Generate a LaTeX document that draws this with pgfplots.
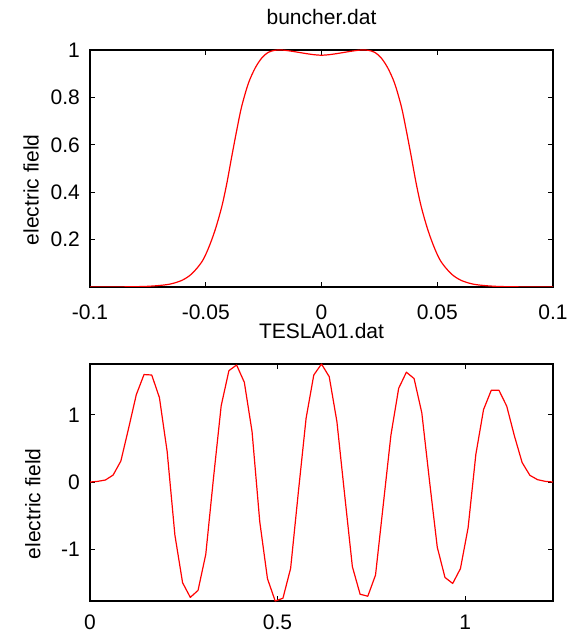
\documentclass[border=0pt]{standalone}
\usepackage{fontspec}
\setmainfont{Liberation Sans}
\usepackage{pgfplots}
\pgfplotsset{compat=1.18}
\pgfplotsset{
  myax/.style={
    scale only axis, width=463pt, height=237pt,
    anchor=south west,
    font=\fontsize{21}{25}\selectfont,
    axis line style={line width=1.5pt, black},
    tick align=inside,
    major tick length=5pt,
    tick style={line width=1pt, black},
    xticklabel style={anchor=base, inner sep=0pt, yshift=-33pt},
    yticklabel style={anchor=east, inner sep=0pt, xshift=-10pt},
    title style={at={(0.5,1)}, anchor=base, inner sep=0pt, yshift=19pt},
    ylabel={electric field},
  }
}
\begin{document}
\begin{tikzpicture}
\begin{axis}[myax, at={(90pt,347pt)},
  title={buncher.dat},
  xmin=-0.1, xmax=0.1, ymin=0, ymax=1,
  xtick={-0.1,-0.05,0,0.05,0.1},
  xticklabels={-0.1,-0.05,0,0.05,0.1},
  ytick={0.2,0.4,0.6,0.8,1},
  yticklabels={0.2,0.4,0.6,0.8,1},
  ylabel style={at={(axis description cs:-0.111,0.41)}, anchor=base, inner sep=0pt},
]
\addplot[red, line width=1.2pt, smooth] table {
x y
-0.1000 0.000
-0.0860 0.0005
-0.0747 0.003
-0.0661 0.011
-0.0603 0.028
-0.0560 0.056
-0.0517 0.106
-0.0489 0.162
-0.0460 0.239
-0.0431 0.338
-0.0409 0.437
-0.0388 0.549
-0.0366 0.662
-0.0345 0.761
-0.0316 0.859
-0.0287 0.923
-0.0259 0.965
-0.0230 0.990
-0.0200 0.999
-0.0172 1.000
-0.0130 0.995
-0.0080 0.987
-0.0040 0.981
0.0000 0.978
0.0040 0.981
0.0080 0.987
0.0130 0.995
0.0172 1.000
0.0200 0.999
0.0230 0.990
0.0259 0.965
0.0287 0.923
0.0316 0.859
0.0345 0.761
0.0366 0.662
0.0388 0.549
0.0409 0.437
0.0431 0.338
0.0460 0.239
0.0489 0.162
0.0517 0.106
0.0560 0.056
0.0603 0.028
0.0661 0.011
0.0747 0.003
0.0860 0.0005
0.1000 0.000
};
\end{axis}
\begin{axis}[myax, at={(90pt,33pt)},
  title={TESLA01.dat},
  xmin=0, xmax=1.2342, ymin=-1.771, ymax=1.757,
  xtick={0,0.5,1},
  xticklabels={0,0.5,1},
  xticklabel style={yshift=5pt},
  ytick={-1,0,1},
  yticklabels={-1,0,1},
  ylabel style={at={(axis description cs:-0.107,0.41)}, anchor=base, inner sep=0pt},
]
\addplot[red, line width=1.2pt, line join=round] table {
x y
0.0000 0.000
0.0206 0.010
0.0411 0.030
0.0617 0.104
0.0823 0.313
0.1029 0.800
0.1234 1.300
0.1440 1.600
0.1646 1.593
0.1851 1.256
0.2057 0.452
0.2263 -0.790
0.2468 -1.499
0.2674 -1.717
0.2880 -1.613
0.3086 -1.077
0.3291 0.055
0.3497 1.136
0.3703 1.658
0.3908 1.742
0.4114 1.484
0.4320 0.750
0.4525 -0.590
0.4731 -1.440
0.4937 -1.771
0.5143 -1.730
0.5348 -1.285
0.5554 -0.150
0.5760 0.948
0.5965 1.593
0.6171 1.757
0.6377 1.568
0.6582 0.898
0.6788 -0.190
0.6994 -1.260
0.7200 -1.670
0.7405 -1.700
0.7611 -1.385
0.7817 -0.340
0.8022 0.700
0.8228 1.395
0.8434 1.635
0.8639 1.540
0.8845 1.030
0.9051 0.010
0.9257 -0.970
0.9462 -1.420
0.9668 -1.510
0.9874 -1.290
1.0079 -0.680
1.0285 0.410
1.0491 1.080
1.0696 1.365
1.0902 1.365
1.1108 1.130
1.1314 0.685
1.1519 0.290
1.1725 0.100
1.1931 0.035
1.2136 0.010
1.2342 0.000
};
\end{axis}
\pgfresetboundingbox
\path[use as bounding box] (0pt,0pt) rectangle (568pt,634pt);
\end{tikzpicture}
\end{document}
